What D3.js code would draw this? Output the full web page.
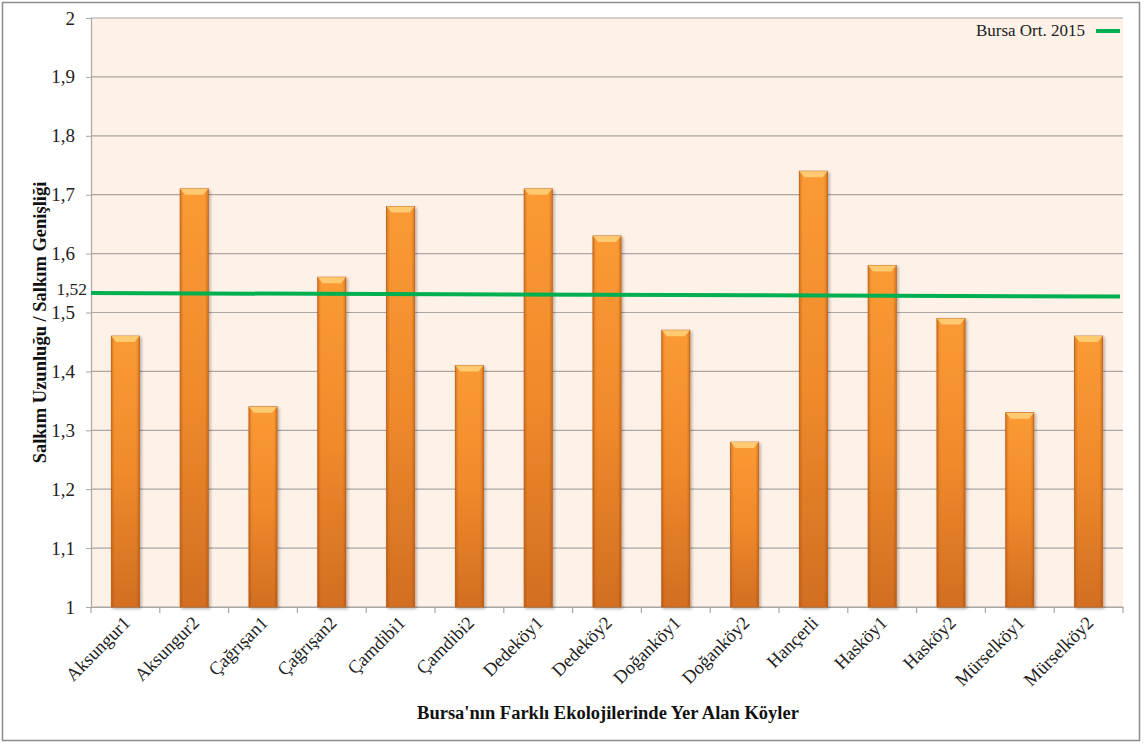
<!DOCTYPE html>
<html><head><meta charset="utf-8">
<script src="https://cdn.jsdelivr.net/npm/d3@7"></script>
<style>body{margin:0;background:#fff}svg{display:block}text{font-family:"Liberation Serif","Times New Roman",serif}</style>
</head><body><svg id="c" width="1147" height="744"></svg>
<script>
const categories = ["Aksungur1","Aksungur2","Çağrışan1","Çağrışan2","Çamdibi1","Çamdibi2","Dedeköy1","Dedeköy2","Doğanköy1","Doğanköy2","Hançerli","Hasköy1","Hasköy2","Mürselköy1","Mürselköy2"];
const values = [1.46,1.71,1.34,1.56,1.68,1.41,1.71,1.63,1.47,1.28,1.74,1.58,1.49,1.33,1.46];
const avgLine = [1.533,1.527]; // start, end of "Bursa Ort. 2015"
const avgLabel = "1,52";
const yTicks = [1,1.1,1.2,1.3,1.4,1.5,1.6,1.7,1.8,1.9,2];
const legendLabel = "Bursa Ort. 2015";
const yTitle = "Salkım Uzunluğu / Salkım Genişliği";
const xTitle = "Bursa'nın Farklı Ekolojilerinde Yer Alan Köyler";

const svg = d3.select("#c");
const L=91,R=1123,T=18,B=607;
const x = d3.scaleBand().domain(categories).range([L,R]).paddingInner(0.59).paddingOuter(0.295);
const xb = d3.scaleBand().domain(categories).range([L,R]);
const y = d3.scaleLinear().domain([1,2]).range([B,T]);
const fmt = v => String(+v.toFixed(2)).replace(".",",");

const defs = svg.append("defs");
const g1 = defs.append("linearGradient").attr("id","bv").attr("x1",0).attr("x2",0).attr("y1",0).attr("y2",1);
g1.append("stop").attr("offset",0).attr("stop-color","#fb9a34");
g1.append("stop").attr("offset",0.5).attr("stop-color","#f08a2c");
g1.append("stop").attr("offset",1).attr("stop-color","#d26e22");
const g2 = defs.append("linearGradient").attr("id","bh").attr("x1",0).attr("x2",1).attr("y1",0).attr("y2",0);
g2.append("stop").attr("offset",0).attr("stop-color","#8a3c00").attr("stop-opacity",0.35);
g2.append("stop").attr("offset",0.12).attr("stop-color","#8a3c00").attr("stop-opacity",0);
g2.append("stop").attr("offset",0.88).attr("stop-color","#8a3c00").attr("stop-opacity",0);
g2.append("stop").attr("offset",1).attr("stop-color","#8a3c00").attr("stop-opacity",0.35);
const f = defs.append("filter").attr("id","sh").attr("x","-20%").attr("y","-20%").attr("width","140%").attr("height","140%");
f.append("feDropShadow").attr("dx",1.5).attr("dy",1.5).attr("stdDeviation",1.5).attr("flood-color","#000").attr("flood-opacity",0.3);

// outer frame
svg.append("rect").attr("x",2.5).attr("y",2.5).attr("width",1137).attr("height",738).attr("fill","#fff").attr("stroke","#8c8c8c").attr("stroke-width",1.5);

// plot background
svg.append("rect").attr("x",L).attr("y",T).attr("width",R-L).attr("height",B-T).attr("fill","#fdf1e8");

// gridlines
svg.append("g").selectAll("line").data(yTicks).join("line")
  .attr("x1",L).attr("x2",R).attr("y1",d=>y(d)).attr("y2",d=>y(d))
  .attr("stroke","#aaa6a2").attr("stroke-width",1.2);

// y axis
const ya = svg.append("g").attr("transform",`translate(${L},0)`)
  .call(d3.axisLeft(y).tickValues(yTicks).tickFormat(fmt).tickSize(5).tickPadding(11));
ya.select(".domain").attr("stroke","#aaa6a2").attr("stroke-width",1.2);
ya.selectAll(".tick line").attr("stroke","#aaa6a2");
ya.selectAll("text").attr("font-size",19).attr("fill","#222").attr("font-family","Liberation Serif");

// x axis
const xa = svg.append("g").attr("transform",`translate(0,${B})`)
  .call(d3.axisBottom(xb).tickSize(0).tickFormat(""));
xa.select(".domain").attr("stroke","#aaa6a2").attr("stroke-width",1.2);
xa.selectAll(".tick").remove();
const bounds = categories.map(c=>xb(c)).concat([R]);
xa.selectAll("line.tb").data(bounds).join("line").attr("class","tb")
  .attr("x1",d=>d).attr("x2",d=>d).attr("y1",0).attr("y2",6).attr("stroke","#aaa6a2").attr("stroke-width",1.2);
svg.append("g").selectAll("text").data(categories).join("text")
  .attr("transform",d=>`translate(${x(d)+x.bandwidth()/2+6},${B+17}) rotate(-45)`)
  .attr("text-anchor","end").attr("font-size",18.5).attr("fill","#222").text(d=>d);

// bars
const bars = svg.append("g").selectAll("g").data(categories).join("g");
bars.append("rect").attr("x",d=>x(d)).attr("y",(d,i)=>y(values[i])).attr("width",x.bandwidth())
  .attr("height",(d,i)=>y(1)-y(values[i])).attr("fill","url(#bv)").attr("stroke","#c8681e").attr("stroke-width",0.8).attr("filter","url(#sh)");
bars.append("rect").attr("x",d=>x(d)).attr("y",(d,i)=>y(values[i])).attr("width",x.bandwidth())
  .attr("height",(d,i)=>y(1)-y(values[i])).attr("fill","url(#bh)");
bars.append("path").attr("d",(d,i)=>{const x0=x(d),w=x.bandwidth(),y0=y(values[i]);
  return `M${x0},${y0}L${x0+w},${y0}L${x0+w-5},${y0+6}L${x0+5},${y0+6}Z`;}).attr("fill","#ffd27a").attr("opacity",0.85);

// average line
svg.append("line").attr("x1",L).attr("x2",R-3).attr("y1",y(avgLine[0])).attr("y2",y(avgLine[1]))
  .attr("stroke","#00b050").attr("stroke-width",4);
svg.append("text").attr("x",L-4).attr("y",y(avgLine[0])+2).attr("text-anchor","end")
  .attr("font-size",17.5).attr("fill","#222").text(avgLabel);

// legend
svg.append("line").attr("x1",1096).attr("x2",1120).attr("y1",31).attr("y2",31).attr("stroke","#00b050").attr("stroke-width",4);
svg.append("text").attr("x",1085).attr("y",36).attr("text-anchor","end").attr("font-size",17).attr("fill","#222").text(legendLabel);

// titles
svg.append("text").attr("transform",`translate(46,${(T+B)/2+10}) rotate(-90)`).attr("text-anchor","middle")
  .attr("font-size",18.5).attr("font-weight","bold").attr("fill","#111").text(yTitle);
svg.append("text").attr("x",608).attr("y",719).attr("text-anchor","middle")
  .attr("font-size",18.5).attr("font-weight","bold").attr("fill","#111").text(xTitle);
</script></body></html>
